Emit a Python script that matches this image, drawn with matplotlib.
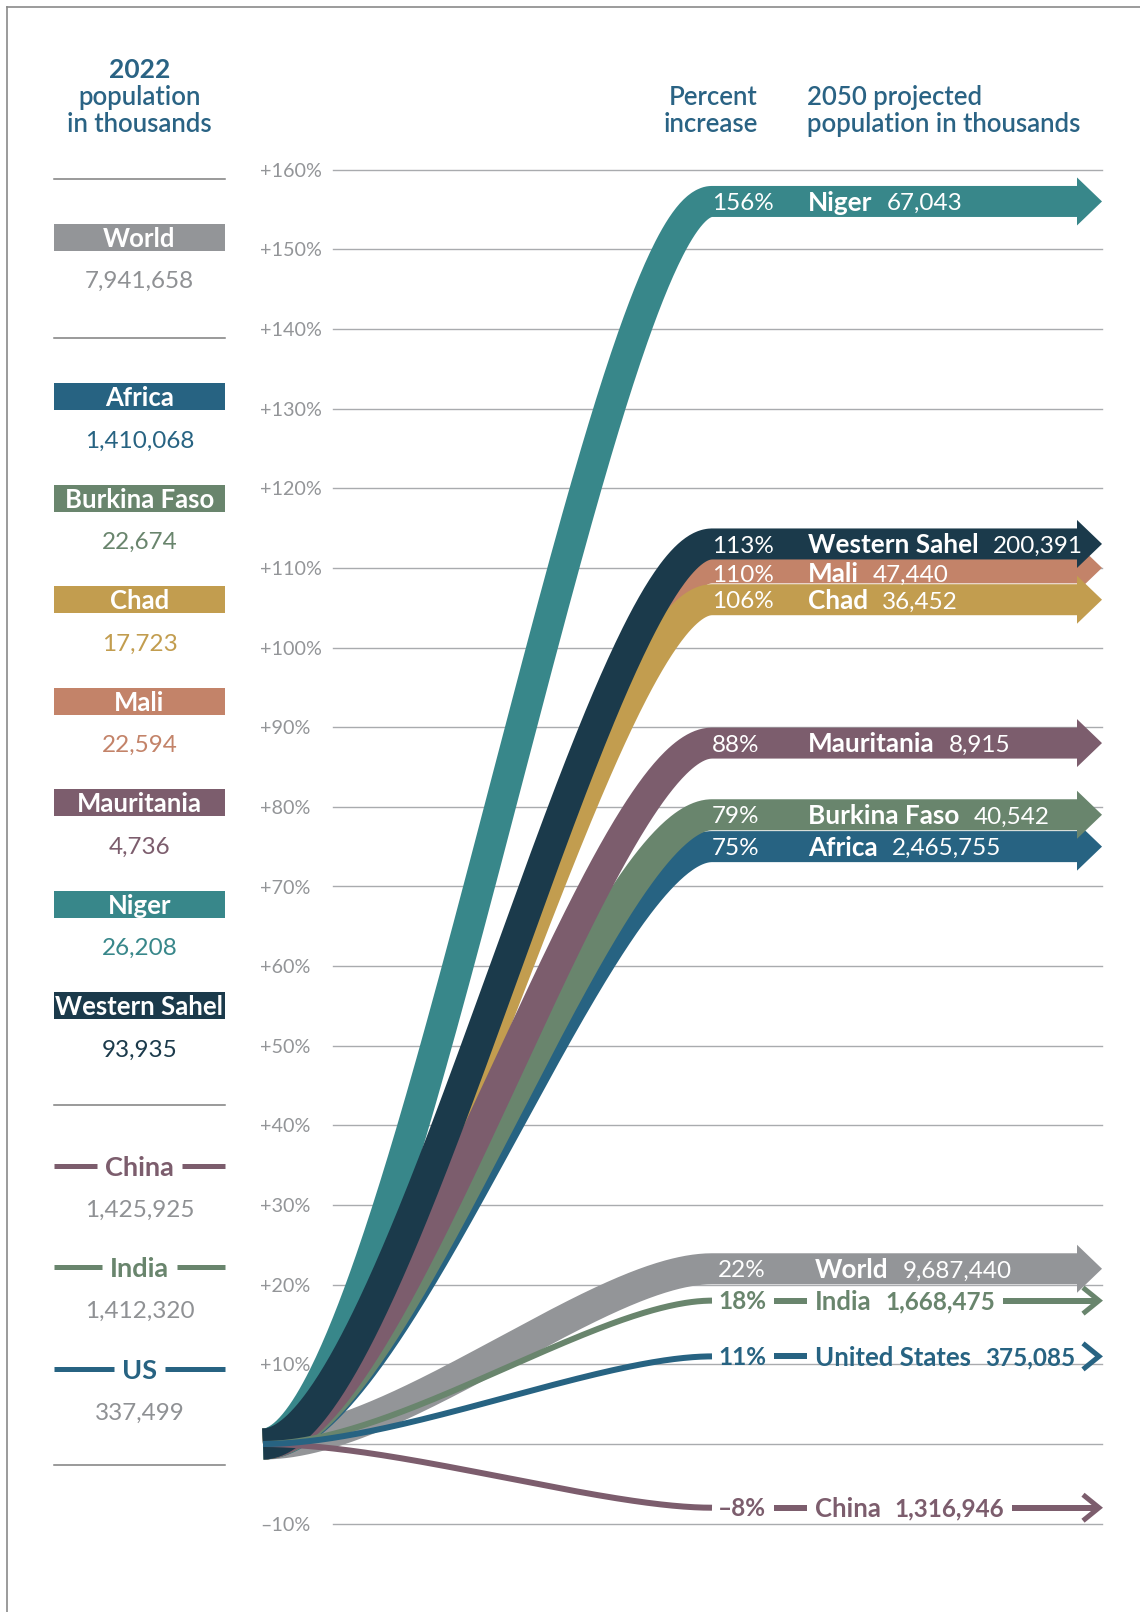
"""Population 2022 -> 2050: Sahel countries vs. world, ribbon chart."""
import matplotlib
matplotlib.use('Agg')
import matplotlib.pyplot as plt
import numpy as np

plt.rcParams['font.family'] = ['Lato', 'DejaVu Sans']

# --- data -----------------------------------------------------------------
BAND_NAMES = ['World', 'Africa', 'Burkina Faso', 'Mali', 'Chad',
              'Mauritania', 'Niger', 'Western Sahel']
BAND_POP_2022 = [7941658, 1410068, 22674, 22594, 17723, 4736, 26208, 93935]
BAND_POP_2050 = [9687440, 2465755, 40542, 47440, 36452, 8915, 67043, 200391]
BAND_PCT = [22, 75, 79, 110, 106, 88, 156, 113]
BAND_COLORS = ['#939598', '#276382', '#69856d', '#c38369', '#c29d4f',
               '#7c5d6d', '#38878a', '#1b3a4b']

LINE_NAMES = ['India', 'China', 'United States']
LINE_SHORT = ['India', 'China', 'US']
LINE_POP_2022 = [1412320, 1425925, 337499]
LINE_POP_2050 = [1668475, 1316946, 375085]
LINE_PCT = [18, -8, 11]
LINE_COLORS = ['#69856d', '#7c5d6d', '#276382']

LEFT_BANDS = ['World', 'Africa', 'Burkina Faso', 'Chad', 'Mali',
              'Mauritania', 'Niger', 'Western Sahel']
LEFT_LINES = ['China', 'India', 'US']

GRID = [-10, 0, 10, 20, 30, 40, 50, 60, 70, 80, 90, 100, 110, 120, 130, 140, 150, 160]

HEAD = '#2a6384'
GRAYTXT = '#8f9194'

# --- layout (pixels) ------------------------------------------------------
W, H, DPI = 1140, 1612, 100
X0, X1 = 263, 712          # curve start / end
Y0, PPP = 1444, 7.965      # y pixel of 0 %, pixels per percent
ARROW_BASE, ARROW_TIP = 1077, 1102
BAND_W = 31
LINE_W = 6
LABEL_DY = {'Mali': 5}     # nudge so the label sits in the visible strip


def ux(px):
    return (px - X0) / (X1 - X0)


def uy(py):
    return (Y0 - py) / PPP


def pt(px):
    return px * 72 / DPI


def cap(size):
    return 0.7165 * size * DPI / 72


fig = plt.figure(figsize=(W / DPI, H / DPI), dpi=DPI)
ax = fig.add_axes([0, 0, 1, 1])
ax.set_xlim(ux(0), ux(W))
ax.set_ylim(uy(H), uy(0))
ax.axis('off')
R = fig.canvas.get_renderer()


def put(px, py_center, s, size, color, weight='normal', ha='left'):
    """Text whose cap height is centred on py_center (pixels)."""
    return ax.text(ux(px), uy(py_center + cap(size) / 2), s, fontsize=size,
                   color=color, fontweight=weight, ha=ha, va='baseline', zorder=30)


def ext(t):
    bb = t.get_window_extent(R)
    return bb.x0, bb.x1


def curve(v, n=240):
    t = np.linspace(0, 1, n)
    a, b = 0.3, 0.25
    x = 3 * (1 - t) ** 2 * t * a + 3 * (1 - t) * t ** 2 * (1 - b) + t ** 3
    y = v * (3 * (1 - t) * t ** 2 + t ** 3)
    return x, y


# frame
ax.plot([ux(7), ux(W)], [uy(7), uy(7)], color='#8a8a8a', lw=1.2)
ax.plot([ux(7), ux(7)], [uy(7), uy(H)], color='#8a8a8a', lw=1.2)

# grid + tick labels
for g in GRID:
    ax.plot([ux(333), ux(ARROW_TIP)], [g, g], color='#a9abae', lw=1.0, zorder=1)
    if g != 0:
        lab = f'+{g}%' if g > 0 else f'\u2013{-g}%'
        put(260, Y0 - g * PPP, lab, 14.2, '#939598')

# headers
for txt, base, w, s in [('2022', 78, 'bold', 19), ('population', 105, 'semibold', 18.5),
                        ('in thousands', 132, 'semibold', 18.5)]:
    ax.text(ux(139.5), uy(base), txt, fontsize=s, color=HEAD, fontweight=w,
            ha='center', va='baseline')
for txt, base in [('Percent', 105), ('increase', 132)]:
    ax.text(ux(758), uy(base), txt, fontsize=18.5, color=HEAD, fontweight='semibold',
            ha='right', va='baseline')
for txt, base in [('2050 projected', 105), ('population in thousands', 132)]:
    ax.text(ux(807), uy(base), txt, fontsize=18.5, color=HEAD, fontweight='semibold',
            ha='left', va='baseline')

# left column separators
for sy in [179, 338, 1105, 1465]:
    ax.plot([ux(54), ux(225)], [uy(sy), uy(sy)], color='#7f7f7f', lw=1.1)

# left column: band boxes
for i, name in enumerate(LEFT_BANDS):
    k = BAND_NAMES.index(name)
    cy = 237.5 if i == 0 else 396.8 + (i - 1) * 101.5
    ax.fill([ux(54), ux(225), ux(225), ux(54)],
            [uy(cy - 13.5), uy(cy - 13.5), uy(cy + 13.5), uy(cy + 13.5)],
            color=BAND_COLORS[k], lw=0)
    put(139.5, cy, name, 18.5, 'white', 'bold', ha='center')
    vcol = GRAYTXT if name == 'World' else BAND_COLORS[k]
    put(139.5, cy + 42, f'{BAND_POP_2022[k]:,}', 17.5, vcol, ha='center')

# left column: line legends
for i, short in enumerate(LEFT_LINES):
    k = LINE_SHORT.index(short)
    cy = 1165.8 + i * 101.5
    t = put(139.5, cy, short, 19.5, LINE_COLORS[k], 'bold', ha='center')
    a, b = ext(t)
    for xa, xb in [(54, a - 8), (b + 8, 225)]:
        ax.plot([ux(xa), ux(xb)], [uy(cy), uy(cy)], color=LINE_COLORS[k],
                lw=pt(5), solid_capstyle='butt')
    put(139.5, cy + 42, f'{LINE_POP_2022[k]:,}', 17.5, GRAYTXT, ha='center')

# ribbons
hh = 24 / PPP
for k, name in enumerate(BAND_NAMES):
    v, c = BAND_PCT[k], BAND_COLORS[k]
    x, y = curve(v)
    x = np.append(x, ux(ARROW_BASE + 2))
    y = np.append(y, v)
    ax.plot(x, y, color=c, lw=pt(BAND_W), solid_capstyle='butt',
            solid_joinstyle='round', zorder=3 + k)
    ax.fill([ux(ARROW_BASE), ux(ARROW_TIP), ux(ARROW_BASE)], [v + hh, v, v - hh],
            color=c, lw=0, zorder=3 + k)
    cy = Y0 - v * PPP + LABEL_DY.get(name, 0)
    x_pct, x_name = (718, 815) if name == 'World' else (712, 808)
    put(x_pct, cy, f'{v}%', 17.5, 'white')
    t = put(x_name, cy, name, 18.8, 'white', 'bold')
    put(ext(t)[1] + 14, cy, f'{BAND_POP_2050[k]:,}', 17.5, 'white')

# thin lines
for k, name in enumerate(LINE_NAMES):
    v, c = LINE_PCT[k], LINE_COLORS[k]
    x, y = curve(v)
    ax.plot(x, y, color=c, lw=pt(LINE_W), solid_capstyle='butt', zorder=20)
    cy = Y0 - v * PPP
    lab = f'{v}%' if v >= 0 else f'\u2013{-v}%'
    texts = [put(718, cy, lab, 17.5, c, 'bold')]
    texts.append(put(815, cy, name, 18.5, c, 'bold'))
    texts.append(put(ext(texts[-1])[1] + 14, cy, f'{LINE_POP_2050[k]:,}', 17.5, c, 'bold'))
    cur = X1
    for a, b in sorted(ext(t) for t in texts):
        if a - 8 > cur + 4:
            ax.plot([ux(cur), ux(a - 8)], [v, v], color=c, lw=pt(LINE_W),
                    solid_capstyle='butt', zorder=20)
        cur = max(cur, b + 8)
    if ARROW_TIP - 4 - cur > 20:
        ax.plot([ux(cur), ux(ARROW_TIP - 4)], [v, v], color=c, lw=pt(LINE_W),
                solid_capstyle='butt', zorder=20)
    ax.plot([ux(ARROW_TIP - 19), ux(ARROW_TIP - 3), ux(ARROW_TIP - 19)],
            [v + 13 / PPP, v, v - 13 / PPP], color=c, lw=pt(5),
            solid_capstyle='butt', solid_joinstyle='miter', zorder=20)

fig.savefig('out.png', dpi=DPI)
